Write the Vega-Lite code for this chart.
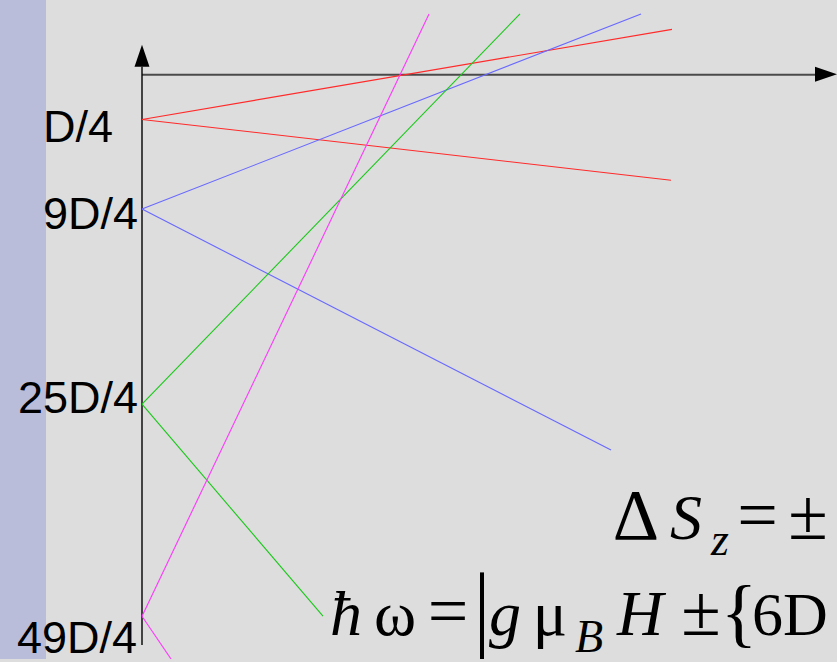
{
  "$schema": "https://vega.github.io/schema/vega-lite/v6.json",
  "width": 837,
  "height": 662,
  "autosize": {"type": "fit", "contains": "padding"},
  "padding": 0,
  "background": "#dddddd",
  "config": {"view": {"stroke": null}},
  "datasets": {
    "levels": [
      {"label": "D/4", "H": 0, "E": -45},
      {"label": "9D/4", "H": 0, "E": -135},
      {"label": "25D/4", "H": 0, "E": -331},
      {"label": "49D/4", "H": 0, "E": -544}
    ],
    "branches": [
      {"level": "D/4", "branch": "up", "step": 0, "H": 0, "E": -45},
      {"level": "D/4", "branch": "up", "step": 1, "H": 530, "E": 45.5},
      {"level": "D/4", "branch": "down", "step": 0, "H": 0, "E": -45},
      {"level": "D/4", "branch": "down", "step": 1, "H": 529, "E": -106},
      {"level": "9D/4", "branch": "up", "step": 0, "H": 0, "E": -135},
      {"level": "9D/4", "branch": "up", "step": 1, "H": 499, "E": 61},
      {"level": "9D/4", "branch": "down", "step": 0, "H": 0, "E": -135},
      {"level": "9D/4", "branch": "down", "step": 1, "H": 469, "E": -377},
      {"level": "25D/4", "branch": "up", "step": 0, "H": 0, "E": -331},
      {"level": "25D/4", "branch": "up", "step": 1, "H": 378, "E": 61},
      {"level": "25D/4", "branch": "down", "step": 0, "H": 0, "E": -331},
      {"level": "25D/4", "branch": "down", "step": 1, "H": 181, "E": -544},
      {"level": "49D/4", "branch": "up", "step": 0, "H": 0, "E": -544},
      {"level": "49D/4", "branch": "up", "step": 1, "H": 287, "E": 61},
      {"level": "49D/4", "branch": "down", "step": 0, "H": 0, "E": -544},
      {"level": "49D/4", "branch": "down", "step": 1, "H": 29, "E": -587}
    ],
    "formulaOperators": [
      {"text": "Δ", "H": 494, "E": -466},
      {"text": "=", "H": 615.5, "E": -466},
      {"text": "±", "H": 666, "E": -466},
      {"text": "=", "H": 306, "E": -563},
      {"text": "±", "H": 559, "E": -563}
    ],
    "formulaRoman": [
      {"text": "ω", "H": 253, "E": -563},
      {"text": "μ", "H": 408, "E": -563}
    ],
    "formulaItalic": [
      {"text": "S", "H": 544, "E": -466},
      {"text": "ħ", "H": 204, "E": -563},
      {"text": "g", "H": 363, "E": -563},
      {"text": "H", "H": 498, "E": -563}
    ],
    "formulaSub": [
      {"text": "z", "H": 578, "E": -483},
      {"text": "B", "H": 447, "E": -580}
    ],
    "formulaTail": [
      {"text": "6D", "H": 610, "E": -563}
    ],
    "formulaBrace": [
      {"text": "{", "H": 597, "E": -566}
    ]
  },
  "layer": [
    {
      "data": {"values": [{}]},
      "mark": {"type": "rect", "color": "#b9bdd9"},
      "encoding": {
        "x": {"datum": -142, "type": "quantitative", "scale": {"domain": [-142, 695], "zero": false, "nice": false}, "axis": null},
        "x2": {"datum": -96},
        "y": {"datum": -587, "type": "quantitative", "scale": {"domain": [-587, 75], "zero": false, "nice": false}, "axis": null},
        "y2": {"datum": 75}
      }
    },
    {
      "data": {"values": [{}]},
      "mark": {"type": "rule", "color": "#4a4a4a", "strokeWidth": 2},
      "encoding": {
        "x": {"datum": 0, "type": "quantitative", "scale": {"domain": [-142, 695], "zero": false, "nice": false}, "axis": null},
        "x2": {"datum": 673},
        "y": {"datum": 0, "type": "quantitative", "scale": {"domain": [-587, 75], "zero": false, "nice": false}, "axis": null}
      }
    },
    {
      "data": {"values": [{}]},
      "mark": {"type": "rule", "color": "#000000", "strokeWidth": 1.4},
      "encoding": {
        "x": {"datum": 0, "type": "quantitative", "scale": {"domain": [-142, 695], "zero": false, "nice": false}, "axis": null},
        "y": {"datum": 8, "type": "quantitative", "scale": {"domain": [-587, 75], "zero": false, "nice": false}, "axis": null},
        "y2": {"datum": -573}
      }
    },
    {
      "data": {"values": [{}]},
      "mark": {"type": "point", "shape": "M0,-1L0.68,1L-0.68,1Z", "size": 484, "filled": true, "color": "#000000", "opacity": 1, "strokeWidth": 0},
      "encoding": {
        "x": {"datum": 0, "type": "quantitative", "scale": {"domain": [-142, 695], "zero": false, "nice": false}, "axis": null},
        "y": {"datum": 19, "type": "quantitative", "scale": {"domain": [-587, 75], "zero": false, "nice": false}, "axis": null}
      }
    },
    {
      "data": {"values": [{}]},
      "mark": {"type": "point", "shape": "M1,0L-1,-0.68L-1,0.68Z", "size": 484, "filled": true, "color": "#000000", "opacity": 1, "strokeWidth": 0},
      "encoding": {
        "x": {"datum": 684, "type": "quantitative", "scale": {"domain": [-142, 695], "zero": false, "nice": false}, "axis": null},
        "y": {"datum": 0.5, "type": "quantitative", "scale": {"domain": [-587, 75], "zero": false, "nice": false}, "axis": null}
      }
    },
    {
      "data": {"name": "branches"},
      "mark": {"type": "line", "strokeWidth": 1.1, "clip": true},
      "encoding": {
        "x": {"field": "H", "type": "quantitative", "scale": {"domain": [-142, 695], "zero": false, "nice": false}, "axis": null},
        "y": {"field": "E", "type": "quantitative", "scale": {"domain": [-587, 75], "zero": false, "nice": false}, "axis": null},
        "color": {
          "field": "level",
          "type": "nominal",
          "scale": {"domain": ["D/4", "9D/4", "25D/4", "49D/4"], "range": ["#ff2a2a", "#6868ff", "#18c818", "#ff38ff"]},
          "legend": null
        },
        "detail": [{"field": "level"}, {"field": "branch"}],
        "order": {"field": "step", "type": "quantitative"}
      }
    },
    {
      "data": {"name": "levels"},
      "transform": [{"filter": "datum.label === 'D/4'"}],
      "mark": {"type": "text", "font": "Liberation Sans", "fontSize": 45, "align": "right", "baseline": "alphabetic", "dx": -29, "dy": 23, "color": "#000000"},
      "encoding": {
        "x": {"field": "H", "type": "quantitative", "scale": {"domain": [-142, 695], "zero": false, "nice": false}, "axis": null},
        "y": {"field": "E", "type": "quantitative", "scale": {"domain": [-587, 75], "zero": false, "nice": false}, "axis": null},
        "text": {"field": "label"}
      }
    },
    {
      "data": {"name": "levels"},
      "transform": [{"filter": "datum.label === '9D/4'"}],
      "mark": {"type": "text", "font": "Liberation Sans", "fontSize": 45, "align": "right", "baseline": "alphabetic", "dx": -4, "dy": 20, "color": "#000000"},
      "encoding": {
        "x": {"field": "H", "type": "quantitative", "scale": {"domain": [-142, 695], "zero": false, "nice": false}, "axis": null},
        "y": {"field": "E", "type": "quantitative", "scale": {"domain": [-587, 75], "zero": false, "nice": false}, "axis": null},
        "text": {"field": "label"}
      }
    },
    {
      "data": {"name": "levels"},
      "transform": [{"filter": "datum.label === '25D/4'"}],
      "mark": {"type": "text", "font": "Liberation Sans", "fontSize": 45, "align": "right", "baseline": "alphabetic", "dx": -4, "dy": 9, "color": "#000000"},
      "encoding": {
        "x": {"field": "H", "type": "quantitative", "scale": {"domain": [-142, 695], "zero": false, "nice": false}, "axis": null},
        "y": {"field": "E", "type": "quantitative", "scale": {"domain": [-587, 75], "zero": false, "nice": false}, "axis": null},
        "text": {"field": "label"}
      }
    },
    {
      "data": {"name": "levels"},
      "transform": [{"filter": "datum.label === '49D/4'"}],
      "mark": {"type": "text", "font": "Liberation Sans", "fontSize": 45, "align": "right", "baseline": "alphabetic", "dx": -5, "dy": 37, "color": "#000000"},
      "encoding": {
        "x": {"field": "H", "type": "quantitative", "scale": {"domain": [-142, 695], "zero": false, "nice": false}, "axis": null},
        "y": {"field": "E", "type": "quantitative", "scale": {"domain": [-587, 75], "zero": false, "nice": false}, "axis": null},
        "text": {"field": "label"}
      }
    },
    {
      "data": {"name": "formulaOperators"},
      "mark": {"type": "text", "font": "Liberation Serif", "fontSize": 72, "align": "center", "baseline": "alphabetic", "color": "#000000"},
      "encoding": {
        "x": {"field": "H", "type": "quantitative", "scale": {"domain": [-142, 695], "zero": false, "nice": false}, "axis": null},
        "y": {"field": "E", "type": "quantitative", "scale": {"domain": [-587, 75], "zero": false, "nice": false}, "axis": null},
        "text": {"field": "text"}
      }
    },
    {
      "data": {"name": "formulaRoman"},
      "mark": {"type": "text", "font": "Liberation Serif", "fontSize": 64, "align": "center", "baseline": "alphabetic", "color": "#000000"},
      "encoding": {
        "x": {"field": "H", "type": "quantitative", "scale": {"domain": [-142, 695], "zero": false, "nice": false}, "axis": null},
        "y": {"field": "E", "type": "quantitative", "scale": {"domain": [-587, 75], "zero": false, "nice": false}, "axis": null},
        "text": {"field": "text"}
      }
    },
    {
      "data": {"name": "formulaItalic"},
      "mark": {"type": "text", "font": "Liberation Serif", "fontStyle": "italic", "fontSize": 64, "align": "center", "baseline": "alphabetic", "color": "#000000"},
      "encoding": {
        "x": {"field": "H", "type": "quantitative", "scale": {"domain": [-142, 695], "zero": false, "nice": false}, "axis": null},
        "y": {"field": "E", "type": "quantitative", "scale": {"domain": [-587, 75], "zero": false, "nice": false}, "axis": null},
        "text": {"field": "text"}
      }
    },
    {
      "data": {"name": "formulaSub"},
      "mark": {"type": "text", "font": "Liberation Serif", "fontStyle": "italic", "fontSize": 46, "align": "center", "baseline": "alphabetic", "color": "#000000"},
      "encoding": {
        "x": {"field": "H", "type": "quantitative", "scale": {"domain": [-142, 695], "zero": false, "nice": false}, "axis": null},
        "y": {"field": "E", "type": "quantitative", "scale": {"domain": [-587, 75], "zero": false, "nice": false}, "axis": null},
        "text": {"field": "text"}
      }
    },
    {
      "data": {"name": "formulaTail"},
      "mark": {"type": "text", "font": "Liberation Serif", "fontSize": 62, "align": "left", "baseline": "alphabetic", "color": "#000000"},
      "encoding": {
        "x": {"field": "H", "type": "quantitative", "scale": {"domain": [-142, 695], "zero": false, "nice": false}, "axis": null},
        "y": {"field": "E", "type": "quantitative", "scale": {"domain": [-587, 75], "zero": false, "nice": false}, "axis": null},
        "text": {"field": "text"}
      }
    },
    {
      "data": {"name": "formulaBrace"},
      "mark": {"type": "text", "font": "Liberation Serif", "fontSize": 76, "align": "center", "baseline": "alphabetic", "color": "#000000"},
      "encoding": {
        "x": {"field": "H", "type": "quantitative", "scale": {"domain": [-142, 695], "zero": false, "nice": false}, "axis": null},
        "y": {"field": "E", "type": "quantitative", "scale": {"domain": [-587, 75], "zero": false, "nice": false}, "axis": null},
        "text": {"field": "text"}
      }
    },
    {
      "data": {"values": [{}]},
      "mark": {"type": "rule", "color": "#000000", "strokeWidth": 4},
      "encoding": {
        "x": {"datum": 340, "type": "quantitative", "scale": {"domain": [-142, 695], "zero": false, "nice": false}, "axis": null},
        "y": {"datum": -500, "type": "quantitative", "scale": {"domain": [-587, 75], "zero": false, "nice": false}, "axis": null},
        "y2": {"datum": -587}
      }
    }
  ]
}
